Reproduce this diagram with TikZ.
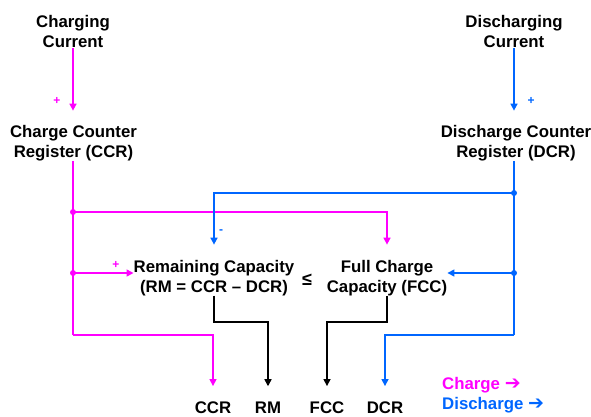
\documentclass[tikz,border=0pt]{standalone}
\usepackage{fontspec}
\setmainfont{Liberation Sans}
\newfontfamily\symfont{DejaVu Sans}
\usetikzlibrary{arrows.meta}
\definecolor{chg}{RGB}{255,0,255}
\definecolor{dis}{RGB}{0,102,255}
\newcommand{\legarrow}{{\symfont\bfseries\fontsize{19}{20}\selectfont ➔}}
\begin{document}
\begin{tikzpicture}[x=1pt,y=-1pt,
  every node/.style={font=\fontsize{16.8}{20}\selectfont\bfseries, inner sep=0pt, align=center},
  lbl/.style={anchor=base},
  sgn/.style={font=\fontsize{12}{12}\selectfont\bfseries},
  conn/.style={line width=1.5pt, -{Triangle[length=7pt,width=7pt]}},
  wire/.style={line width=1.5pt},
  dot/.style={circle, fill, inner sep=0pt, minimum size=6pt}]
\useasboundingbox (0,0) rectangle (591,417);
% text nodes (base = baseline of last line)
\node[lbl] (chgcur) at (73,48) {Charging\\Current};
\node[lbl] (discur) at (514,48) {Discharging\\Current};
\node[lbl] (ccr) at (73.5,157) {Charge Counter\\Register (CCR)};
\node[lbl] (dcr) at (516,157) {Discharge Counter\\Register (DCR)};
\node[lbl] (rm) at (214,292) {Remaining Capacity\\(RM = CCR -- DCR)};
\node[lbl] (fcc) at (387,292) {Full Charge\\Capacity (FCC)};
\node[lbl, font=\fontsize{18}{20}\selectfont\bfseries] (le) at (307,285) {≤};
\node[lbl] (ccrout) at (213,413) {CCR};
\node[lbl] (rmout) at (268,413) {RM};
\node[lbl] (fccout) at (327,413) {FCC};
\node[lbl] (dcrout) at (385,413) {DCR};
\node[lbl, anchor=base west, text=chg] (legc) at (442,389) {Charge \legarrow};
\node[lbl, anchor=base west, text=dis] (legd) at (442,409) {Discharge \legarrow};
% signs
\node[sgn, text=chg] (p1) at (57,101) {+};
\node[sgn, text=dis] (p2) at (531,101) {+};
\node[sgn, text=chg] (p3) at (116,265) {+};
\node[sgn, text=dis] (m1) at (221,232) {-};
% junctions
\coordinate (j1) at (73,212);
\coordinate (j2) at (73,273);
\coordinate (j3) at (73,335);
\coordinate (b1) at (514,193);
\coordinate (b2) at (514,273);
\coordinate (b3) at (514,335);
% magenta
\draw[chg, conn, shorten >=14pt] (chgcur.south) -- (chgcur.south |- ccr.north);
\draw[chg, wire] (j1 |- ccr.south) -- (j3);
\draw[chg, conn, shorten >=15pt] (j3) -| (ccrout.north);
\draw[chg, conn, shorten >=15pt] (j1) -| (fcc.north);
\draw[chg, conn] (j2) -- (j2 -| rm.west);
\node[dot, chg] at (j1) {};
\node[dot, chg] at (j2) {};
% blue
\draw[dis, conn, shorten >=14pt] (discur.south) -- (discur.south |- dcr.north);
\draw[dis, wire] (b1 |- dcr.south) -- (b3);
\draw[dis, conn, shorten >=15pt] (b3) -| (dcrout.north);
\draw[dis, conn, shorten >=15pt] (b1) -| (rm.north);
\draw[dis, conn] (b2) -- (b2 -| fcc.east);
\node[dot, dis] at (b1) {};
\node[dot, dis] at (b2) {};
% black
\draw[conn, shorten >=15pt] (rm.south) -- (rm.south |- 0,322) -| (rmout.north);
\draw[conn, shorten >=15pt] (fcc.south) -- (fcc.south |- 0,322) -| (fccout.north);
\end{tikzpicture}
\end{document}
